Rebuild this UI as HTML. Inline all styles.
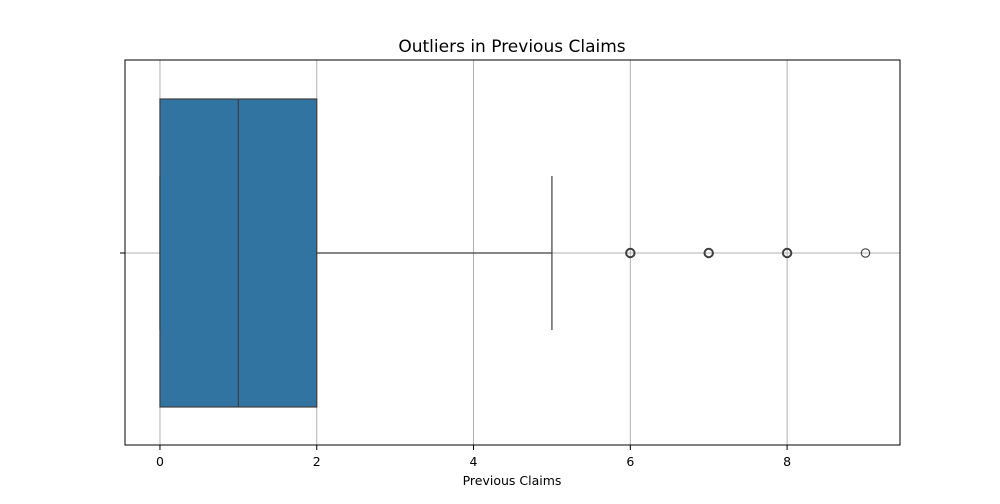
<!DOCTYPE html>
<html><head><meta charset="utf-8"><style>
body{margin:0;background:#fff;font-family:"DejaVu Sans",sans-serif}
</style></head><body>
<svg id="chart" width="1000" height="500" xmlns="http://www.w3.org/2000/svg">
<rect width="1000" height="500" fill="#fff"/>
<text x="512" y="52" text-anchor="middle" font-size="17" font-family="DejaVu Sans, sans-serif">Outliers in Previous Claims</text>
<g id="grid"></g>
<g id="marks"></g>
<rect x="125" y="60" width="775" height="385" fill="none" stroke="#000" stroke-width="1"/>
<g id="ticks"></g>
<text x="512" y="485" text-anchor="middle" font-size="12.5" font-family="DejaVu Sans, sans-serif">Previous Claims</text>
</svg>
<script>
const tickValues=[0,2,4,6,8];
const tickLabels=["0","2","4","6","8"];
const boxStats=[0,0,1,2,5]; // whiskerLow, q1, median, q3, whiskerHigh
const outliers=[6,7,8,9];
const outlierCounts=[3,3,3,1];
const xMin=-0.446,xMax=9.44,L=125,R=900;
const xs=v=>L+(v-xMin)/(xMax-xMin)*(R-L);
const NS="http://www.w3.org/2000/svg";
function mk(tag,attrs,parent){const e=document.createElementNS(NS,tag);for(const k in attrs)e.setAttribute(k,attrs[k]);document.getElementById(parent).appendChild(e);return e;}
const cy=253,bt=99,bb=407;
tickValues.forEach((v,i)=>{
 const g=mk('line',{x1:xs(v),x2:xs(v),y1:60,y2:445,stroke:'#b0b0b0','stroke-width':1},'grid');
 
 
 const t=mk('line',{x1:xs(v),x2:xs(v),y1:445,y2:450,stroke:'#000'},'ticks');
 
 
 const l=mk('text',{x:xs(v),y:466,'text-anchor':'middle','font-size':12.5,'font-family':'DejaVu Sans, sans-serif'},'ticks');
 l.textContent=tickLabels[i];
 
 
});
const hg=mk('line',{x1:125,x2:900,y1:cy,y2:cy,stroke:'#b0b0b0','stroke-width':1},'grid');


const yt=mk('line',{x1:120,x2:125,y1:cy,y2:cy,stroke:'#000'},'ticks');


const [wl,q1,md,q3,wh]=boxStats;
const wL=mk('line',{x1:xs(wl),x2:xs(q1),y1:cy,y2:cy,stroke:'#3f3f3f','stroke-width':1.2},'marks');


const wH=mk('line',{x1:xs(q3),x2:xs(wh),y1:cy,y2:cy,stroke:'#3f3f3f','stroke-width':1.2},'marks');


const box=mk('rect',{x:xs(q1),y:bt,width:xs(q3)-xs(q1),height:bb-bt,fill:'#3274a1',stroke:'#3f3f3f','stroke-width':1.2},'marks');


const capL=mk('line',{x1:xs(wl),x2:xs(wl),y1:176,y2:330,stroke:'#3f3f3f','stroke-width':1.2},'marks');


const capH=mk('line',{x1:xs(wh),x2:xs(wh),y1:176,y2:330,stroke:'#3f3f3f','stroke-width':1.2},'marks');


const med=mk('line',{x1:xs(md),x2:xs(md),y1:bt,y2:bb,stroke:'#3f3f3f','stroke-width':1.2},'marks');


outliers.forEach((v,i)=>{
 const c=mk('circle',{cx:xs(v),cy:cy,r:4.2,fill:'none',stroke:'#3f3f3f','stroke-width':outlierCounts[i]>1?2:1.1},'marks');
 
 
});
</script>
</body></html>
